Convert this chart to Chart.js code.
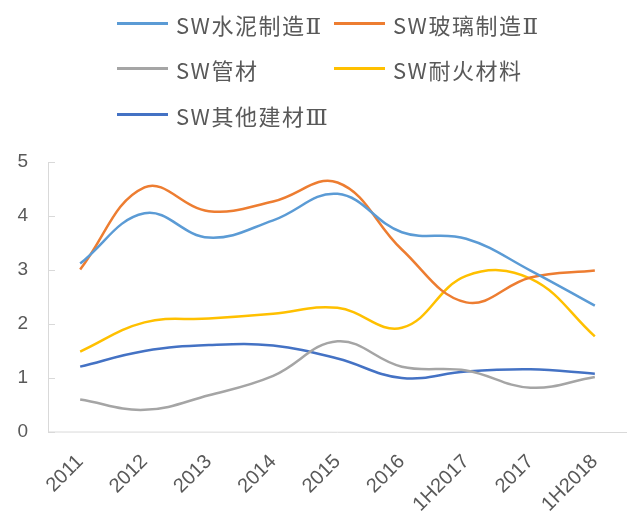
<!DOCTYPE html>
<html><head><meta charset="utf-8">
<script src="https://cdn.jsdelivr.net/npm/chart.js@4"></script>
<style>
html,body{margin:0;padding:0;background:#fff;}
#wrap{position:relative;width:633px;height:515px;}
canvas{position:absolute;left:0;top:0;}
.lg{position:absolute;font-family:"Noto Sans CJK SC","Noto Sans",sans-serif;font-size:22px;color:#595959;white-space:nowrap;line-height:1;}
.lg i{position:absolute;top:0;height:2.5px;width:51px;margin-top:-1px;}
.lg span{position:absolute;left:59px;top:-10px;letter-spacing:1.5px;}
.lg b{font-weight:normal;font-family:"Liberation Serif","DejaVu Serif",serif;font-size:23px;letter-spacing:0;}
</style></head>
<body><div id="wrap"><canvas id="c" width="633" height="515"></canvas><div id="legend"></div></div>
<script>
const categories = ['2011','2012','2013','2014','2015','2016','1H2017','2017','1H2018'];
const seriesNames = ['SW水泥制造Ⅱ','SW玻璃制造Ⅱ','SW管材','SW耐火材料','SW其他建材Ⅲ'];
const cement   = [3.12, 4.05, 3.60, 3.92, 4.41, 3.70, 3.58, 2.99, 2.34];
const glass    = [3.01, 4.53, 4.09, 4.27, 4.62, 3.38, 2.40, 2.86, 2.99];
const pipes    = [0.60, 0.41, 0.68, 1.04, 1.68, 1.21, 1.14, 0.82, 1.02];
const refract  = [1.49, 2.03, 2.10, 2.19, 2.30, 1.93, 2.89, 2.84, 1.77];
const otherMat = [1.21, 1.50, 1.61, 1.60, 1.36, 1.00, 1.12, 1.16, 1.08];
const yTicks = [0,1,2,3,4,5];

const colors = ['#5B9BD5','#ED7D31','#A5A5A5','#FFC000','#4472C4'];
const allData = [cement, glass, pipes, refract, otherMat];

// legend (HTML)
const legendPos = [[117,23],[334,23],[117,68],[334,68],[117,114]];
const lg = document.getElementById('legend');
seriesNames.forEach((n,i)=>{
  const d=document.createElement('div');d.className='lg';
  d.style.left=legendPos[i][0]+'px';d.style.top=legendPos[i][1]+'px';
  const html=n.replace(/([ⅡⅢ])/g,'<b>$1</b>');
  d.innerHTML='<i style="background:'+colors[i]+'"></i><span>'+html+'</span>';
  lg.appendChild(d);
});

const innerTicks = {
  id:'innerTicks',
  afterDraw(chart){
    const y=chart.scales.y, x=chart.scales.x, ctx=chart.ctx;
    ctx.save();ctx.strokeStyle='#D9D9D9';ctx.lineWidth=1;
    ctx.beginPath();
    ctx.moveTo(x.left+0.5,y.getPixelForValue(5));ctx.lineTo(x.left+0.5,y.bottom);
    ctx.lineTo(x.right,y.bottom+0.5);
    yTicks.forEach(v=>{const p=Math.round(y.getPixelForValue(v))+0.5;ctx.moveTo(x.left,p);ctx.lineTo(x.left+7,p);});
    ctx.stroke();ctx.restore();
  }
};

new Chart(document.getElementById('c'),{
  type:'line',
  data:{labels:categories,datasets:allData.map((d,i)=>({
    label:seriesNames[i],data:d,borderColor:colors[i],backgroundColor:colors[i],
    borderWidth:2.5,pointRadius:0,tension:0.4,fill:false
  }))},
  options:{
    responsive:false,animation:false,
    layout:{padding:{top:162,right:6,left:0,bottom:0}},
    plugins:{legend:{display:false},tooltip:{enabled:false}},
    scales:{
      x:{offset:true,
        grid:{display:false,drawTicks:false},border:{display:false},
        ticks:{color:'#595959',font:{family:'Liberation Sans',size:20},minRotation:45,maxRotation:45,padding:18,autoSkip:false},
        afterFit(s){s.height=83;}
      },
      y:{min:0,max:5,
        grid:{display:false,drawTicks:false},border:{display:false},
        afterBuildTicks(s){s.ticks=yTicks.map(v=>({value:v}));},
        ticks:{color:'#595959',font:{family:'Liberation Sans',size:19},padding:20},
        afterFit(s){s.width=48;}
      }
    }
  },
  plugins:[innerTicks]
});
</script></body></html>
